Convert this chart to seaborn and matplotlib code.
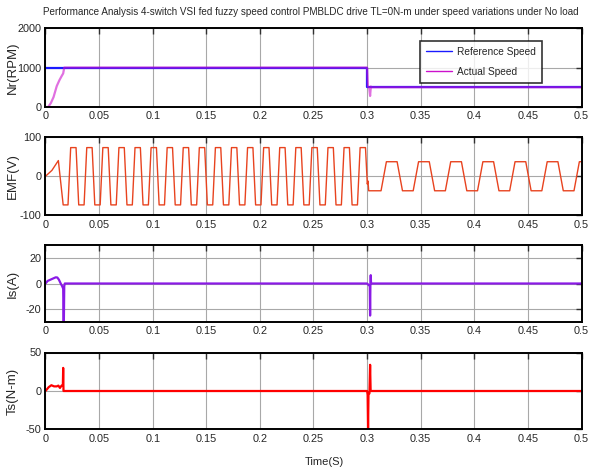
import matplotlib
matplotlib.use("Agg")
import matplotlib.pyplot as plt
import seaborn as sns
import pandas as pd

# ---------------- data ----------------
TITLE = ("Performance Analysis 4-switch VSI fed fuzzy speed control PMBLDC drive "
         "TL=0N-m under speed variations under No load")
x_ticks = [0, 0.05, 0.1, 0.15, 0.2, 0.25, 0.3, 0.35, 0.4, 0.45, 0.5]
x_tick_labels = ["0", "0.05", "0.1", "0.15", "0.2", "0.25", "0.3", "0.35", "0.4", "0.45", "0.5"]
y_labels = ["Nr(RPM)", "EMF(V)", "Is(A)", "Ts(N-m)"]
x_label = "Time(S)"

speed_y_ticks = [0, 1000, 2000]
speed_y_tick_labels = ["0", "1000", "2000"]
emf_y_ticks = [-100, 0, 100]
emf_y_tick_labels = ["-100", "0", "100"]
is_y_ticks = [-20, 0, 20]
is_y_tick_labels = ["-20", "0", "20"]
ts_y_ticks = [-50, 0, 50]
ts_y_tick_labels = ["-50", "0", "50"]

ref_speed_t = [0, 0.3, 0.3, 0.5]
ref_speed_v = [1000, 1000, 500, 500]

act_speed_t = [0, 0.0025, 0.005, 0.0075, 0.0105, 0.013, 0.0152, 0.0165, 0.0175,
               0.3, 0.3008, 0.302, 0.3028, 0.3035, 0.304, 0.5]
act_speed_v = [0, 0, 100, 250, 530, 680, 790, 850, 1000,
               1000, 520, 480, 280, 520, 500, 500]

emf_t = [0, 0.006, 0.012, 0.0165, 0.021,
         0.0235, 0.0285, 0.0310, 0.0360,
         0.0385, 0.0435, 0.0460, 0.0510,
         0.0535, 0.0585, 0.0610, 0.0660,
         0.0685, 0.0735, 0.0760, 0.0810,
         0.0835, 0.0885, 0.0910, 0.0960,
         0.0985, 0.1035, 0.1060, 0.1110,
         0.1135, 0.1185, 0.1210, 0.1260,
         0.1285, 0.1335, 0.1360, 0.1410,
         0.1435, 0.1485, 0.1510, 0.1560,
         0.1585, 0.1635, 0.1660, 0.1710,
         0.1735, 0.1785, 0.1810, 0.1860,
         0.1885, 0.1935, 0.1960, 0.2010,
         0.2035, 0.2085, 0.2110, 0.2160,
         0.2185, 0.2235, 0.2260, 0.2310,
         0.2335, 0.2385, 0.2410, 0.2460,
         0.2485, 0.2535, 0.2560, 0.2610,
         0.2635, 0.2685, 0.2710, 0.2760,
         0.2785, 0.2835, 0.2860, 0.2910,
         0.2935, 0.2985,
         0.3002, 0.3008, 0.3015, 0.313,
         0.318, 0.328, 0.333, 0.343,
         0.348, 0.358, 0.363, 0.373,
         0.378, 0.388, 0.393, 0.403,
         0.408, 0.418, 0.423, 0.433,
         0.438, 0.448, 0.453, 0.463,
         0.468, 0.478, 0.483, 0.493,
         0.498, 0.500]
emf_v = [0, 15, 40, -73, -73] + [73, 73, -73, -73] * 18 + [73, 73] + \
        [-20, -12, -37, -37] + [37, 37, -37, -37] * 6 + [37, 37]

is_t = [0, 0.002, 0.006, 0.0095, 0.011, 0.0125, 0.0142, 0.0155, 0.0165, 0.0170,
        0.0175, 0.018, 0.3, 0.3025, 0.3028, 0.3031, 0.3034, 0.3037, 0.5]
is_v = [0, 2, 3.5, 4.8, 4.7, 3, 0, -2, -4, -40,
        -2, 0, 0, -2, -25, 0, 6.5, 0, 0]

ts_t = [0, 0.003, 0.0055, 0.008, 0.0105, 0.012, 0.0135, 0.015, 0.0162, 0.0165,
        0.0168, 0.3, 0.3005, 0.3009, 0.3013, 0.3022, 0.3028, 0.3033, 0.5]
ts_v = [0, 5, 7.5, 6, 6, 7, 4, 7, 7, 30,
        0, 0, -5, -50, -5, -3, 34, 0, 0]

# ---------------- style ----------------
sns.set_style("white")
plt.rcParams["font.family"] = ["Liberation Sans", "DejaVu Sans"]

fig = plt.figure(figsize=(5.9, 4.7), dpi=100)
left, width = 0.0771, 0.9085
rects = [(left, 0.7723, width, 0.168),
         (left, 0.5415, width, 0.167),
         (left, 0.3149, width, 0.1638),
         (left, 0.0862, width, 0.1638)]
axes = [fig.add_axes(r) for r in rects]

def line(ax, t, v, color, lw, label=None, alpha=1.0):
    df = pd.DataFrame({"t": t, "v": v})
    sns.lineplot(data=df, x="t", y="v", ax=ax, color=color, linewidth=lw,
                 estimator=None, sort=False, label=label, alpha=alpha)

line(axes[0], ref_speed_t, ref_speed_v, "#1a1aff", 1.6, "Reference Speed")
line(axes[0], act_speed_t, act_speed_v, "#cc11cc", 1.6, "Actual Speed", alpha=0.6)
line(axes[1], emf_t, emf_v, "#e8431f", 1.0)
line(axes[2], is_t, is_v, "#8a1ae6", 1.6)
line(axes[3], ts_t, ts_v, "#ff0000", 1.6)

ylims = [(0, 2000), (-100, 100), (-30, 30), (-50, 50)]
yticks = [(speed_y_ticks, speed_y_tick_labels), (emf_y_ticks, emf_y_tick_labels),
          (is_y_ticks, is_y_tick_labels), (ts_y_ticks, ts_y_tick_labels)]

TICK_FS = 7.8
for i, ax in enumerate(axes):
    ax.set_xlim(0, 0.5)
    ax.set_ylim(*ylims[i])
    ax.set_xticks(x_ticks)
    ax.set_xticklabels(x_tick_labels, fontsize=TICK_FS)
    ax.set_yticks(yticks[i][0])
    ax.set_yticklabels(yticks[i][1], fontsize=TICK_FS)
    ax.grid(True, color="#a8a8a8", linewidth=0.8)
    ax.set_axisbelow(True)
    ax.tick_params(direction="in", length=4, width=1, color="#303030",
                   top=True, right=True, pad=3)
    for s in ax.spines.values():
        s.set_visible(True)
        s.set_color("black")
        s.set_linewidth(1.4)
    ax.set_ylabel(y_labels[i], fontsize=9.5)
    ax.yaxis.set_label_coords(-0.05, 0.5)
    ax.set_xlabel("")

axes[3].set_xlabel(x_label, fontsize=8)
axes[3].xaxis.set_label_coords(0.52, -0.36)

leg = axes[0].legend(loc="upper right", bbox_to_anchor=(0.936, 0.905), fontsize=7.3,
                     frameon=True, fancybox=False, edgecolor="black",
                     handlelength=2.6, handletextpad=0.5, borderpad=0.6,
                     labelspacing=1.0)
leg.get_frame().set_linewidth(1.2)
for h in leg.get_lines():
    h.set_alpha(1.0)
    h.set_linewidth(1.0)

fig.text(0.527, 0.974, TITLE, ha="center", va="center", fontsize=7.1)

fig.savefig("out.png", dpi=100)
